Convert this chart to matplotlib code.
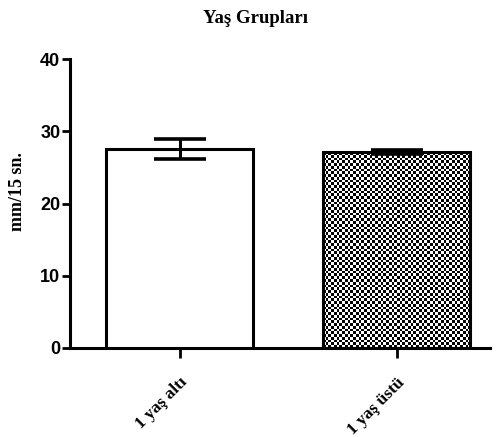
import numpy as np
import matplotlib.pyplot as plt

# Group means and SEM
groups = ['1 yaş altı', '1 yaş üstü']
means = [27.5, 27.1]
errors = [1.4, 0.3]

fig = plt.figure(figsize=(4.97, 4.37), dpi=100)
ax = fig.add_axes([70 / 497, 89 / 437, 420 / 497, 289 / 437])

x = np.arange(len(groups))
width = 0.68
bars = ax.bar(x, means, width=width, color='white', edgecolor='black',
              linewidth=2.2, zorder=3)
ax.errorbar(x, means, yerr=errors, fmt='none', ecolor='black',
            elinewidth=2.2, capsize=19, capthick=2.6, zorder=4)

# checkerboard fill for the second bar
b = bars[1]
x0, y0 = b.get_x(), b.get_y()
w, h = b.get_width(), b.get_height()
nx, ny = 54, 71
checker = (np.indices((ny, nx)).sum(axis=0) % 2).astype(float)
img = ax.imshow(checker, cmap='gray', interpolation='nearest', aspect='auto',
                extent=[x0, x0 + w, y0, y0 + h], zorder=2)
img.set_clip_path(b)
b.set_facecolor('none')

ax.set_xlim(-0.505, 1.43)
ax.set_ylim(0, 40)
ax.set_yticks([0, 10, 20, 30, 40])
ax.set_xticks(x)
ax.set_xticklabels(groups, rotation=45, ha='right', rotation_mode='anchor',
                   family='Liberation Serif', fontweight='bold', fontsize=12.5)
for lab in ax.get_yticklabels():
    lab.set_family('Liberation Sans')
    lab.set_fontweight('bold')
    lab.set_fontsize(13)

ax.spines['top'].set_visible(False)
ax.spines['right'].set_visible(False)
ax.spines['left'].set_linewidth(2.2)
ax.spines['bottom'].set_linewidth(2.2)
ax.tick_params(axis='y', length=6, width=2, pad=1)
ax.tick_params(axis='x', length=7, width=2, pad=12)

ax.set_ylabel('mm/15 sn.', family='Liberation Serif', fontweight='bold',
              fontsize=13)
ax.yaxis.set_label_coords(-0.105, 0.54)
fig.text(255 / 497, 0.958, 'Yaş Grupları', family='Liberation Serif',
         fontweight='bold', fontsize=13.5, ha='center', va='center')

fig.savefig('out.png', dpi=100)
